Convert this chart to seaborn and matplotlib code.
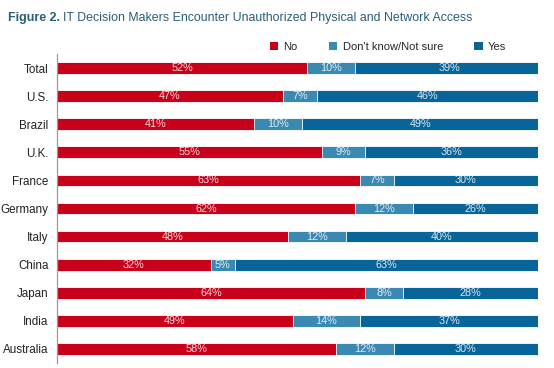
import matplotlib
matplotlib.use("Agg")
import matplotlib.pyplot as plt
import seaborn as sns
import pandas as pd
import numpy as np
from matplotlib.patches import Patch

countries = ["Total", "U.S.", "Brazil", "U.K.", "France", "Germany", "Italy",
             "China", "Japan", "India", "Australia"]
no_vals = [52, 47, 41, 55, 63, 62, 48, 32, 64, 49, 58]
dk_vals = [10, 7, 10, 9, 7, 12, 12, 5, 8, 14, 12]
yes_vals = [39, 46, 49, 36, 30, 26, 40, 63, 28, 37, 30]
series = ["No", "Don't know/Not sure", "Yes"]
colors = ["#c8001a", "#3a89b3", "#08659a"]

sns.set_style("white")
plt.rcParams["font.family"] = ["Liberation Sans", "DejaVu Sans"]

df = pd.DataFrame({"country": countries, "No": no_vals, "DK": dk_vals, "Yes": yes_vals})
df["c1"] = df["No"]
df["c2"] = df["No"] + df["DK"]
df["c3"] = df["No"] + df["DK"] + df["Yes"]

fig = plt.figure(figsize=(5.54, 3.68), dpi=100)
ax = fig.add_axes([57 / 554, 1 - 363 / 368, (538 - 57) / 554, (363 - 54) / 368])

bw = 0.42
sns.barplot(data=df, y="country", x="c3", color=colors[2], width=bw, ax=ax,
            edgecolor="white", linewidth=0.6, saturation=1, orient="h")
sns.barplot(data=df, y="country", x="c2", color=colors[1], width=bw, ax=ax,
            edgecolor="white", linewidth=0.6, saturation=1, orient="h")
sns.barplot(data=df, y="country", x="c1", color=colors[0], width=bw, ax=ax,
            edgecolor="white", linewidth=0.6, saturation=1, orient="h")

for i, row in df.iterrows():
    starts = [0, row["c1"], row["c2"]]
    vals = [row["No"], row["DK"], row["Yes"]]
    for s, v in zip(starts, vals):
        ax.text(s + v / 2, i, f"{v}%", ha="center", va="center",
                color="white", alpha=0.85, fontsize=7.8)

ax.set_xlim(0, 100)
ax.set_ylim(10.5, -0.5)
ax.set_xlabel("")
ax.set_ylabel("")
ax.set_xticks([])
ax.tick_params(axis="y", length=0, labelsize=8.4, pad=6, labelcolor="#222222")
ax.set_yticks(np.arange(-0.5, 11, 1), minor=True)
ax.tick_params(axis="y", which="minor", length=3, color="#999999", width=0.8)
for sp in ["top", "right", "bottom"]:
    ax.spines[sp].set_visible(False)
ax.spines["left"].set_color("#999999")
ax.spines["left"].set_linewidth(0.9)
ax.set_facecolor("none")

handles = [Patch(facecolor=c, edgecolor="none") for c in colors]
fig.legend(handles, series, loc="center", bbox_to_anchor=(388 / 554, 1 - 47 / 368),
           ncol=3, frameon=False, fontsize=8, handlelength=0.75, handleheight=0.75,
           handletextpad=0.5, columnspacing=2.8)

title_color = "#2a5d78"
t1 = fig.text(8 / 554, 1 - 18 / 368, "Figure 2.", fontsize=8.9, fontweight="bold",
              color=title_color, va="center", ha="left")
fig.canvas.draw()
bb = t1.get_window_extent()
fig.text((bb.x1 + 3) / 554, 1 - 18 / 368,
         "IT Decision Makers Encounter Unauthorized Physical and Network Access",
         fontsize=8.9, color=title_color, va="center", ha="left")

fig.savefig("out.png", dpi=100)
